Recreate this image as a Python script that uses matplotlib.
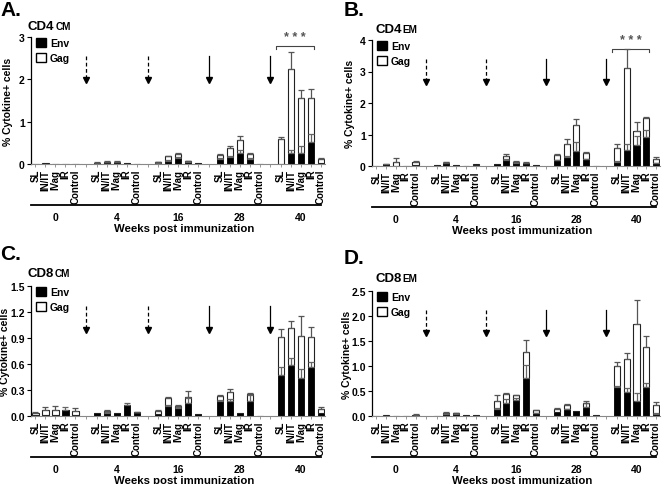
import numpy as np
import matplotlib
matplotlib.use("Agg")
from matplotlib import pyplot as plt
from matplotlib.patches import Patch
import matplotlib.transforms as mtransforms

plt.rcParams['font.family'] = ['Liberation Sans', 'DejaVu Sans']
plt.rcParams['font.weight'] = 'bold'

weeks = ["0", "4", "16", "28", "40"]
routes = ["SL", "IN/IT", "IVag", "IR", "Control"]

# values per panel, order: week 0 (SL, IN/IT, IVag, IR, Control), week 4, 16, 28, 40
# env = black part, gag = white part stacked on top, *_err = upper error length
cd4cm_env = [0.01, 0.01, 0.01, 0.005, 0.005,
             0.02, 0.02, 0.04, 0.02, 0.01,
             0.03, 0.08, 0.14, 0.05, 0.02,
             0.12, 0.16, 0.26, 0.12, 0.01,
             0.0, 0.27, 0.26, 0.51, 0.03]
cd4cm_env_err = [0, 0, 0, 0, 0,
                 0, 0, 0.01, 0, 0,
                 0.01, 0.01, 0.02, 0.01, 0,
                 0.02, 0.03, 0.08, 0.02, 0,
                 0, 0.05, 0.17, 0.21, 0]
cd4cm_gag = [0, 0.005, 0, 0, 0,
             0.01, 0.03, 0.01, 0.01, 0,
             0.01, 0.10, 0.09, 0.02, 0.01,
             0.10, 0.21, 0.30, 0.12, 0,
             0.58, 1.98, 1.29, 1.05, 0.09]
cd4cm_gag_err = [0, 0, 0, 0, 0,
                 0.01, 0.03, 0.01, 0, 0,
                 0.01, 0.02, 0.04, 0.01, 0,
                 0.02, 0.06, 0.09, 0.02, 0,
                 0.05, 0.40, 0.20, 0.21, 0.01]

cd4em_env = [0.01, 0.05, 0.01, 0.0, 0.02,
             0.02, 0.10, 0.03, 0.01, 0.04,
             0.05, 0.19, 0.11, 0.10, 0.02,
             0.18, 0.29, 0.47, 0.21, 0.01,
             0.14, 0.52, 0.67, 0.92, 0.08]
cd4em_env_err = [0, 0.01, 0, 0, 0,
                 0, 0.02, 0, 0, 0,
                 0, 0.02, 0.02, 0.01, 0,
                 0.01, 0.04, 0.29, 0.02, 0,
                 0.01, 0.17, 0.27, 0.21, 0.01]
cd4em_gag = [0, 0.01, 0.11, 0, 0.10,
             0, 0.01, 0.01, 0, 0.01,
             0.01, 0.14, 0.03, 0.01, 0,
             0.18, 0.40, 0.84, 0.19, 0,
             0.43, 2.58, 0.44, 0.60, 0.15]
cd4em_gag_err = [0, 0, 0.12, 0, 0.05,
                 0, 0.01, 0, 0, 0,
                 0, 0.05, 0.03, 0.01, 0,
                 0.02, 0.16, 0.17, 0.03, 0,
                 0.12, 0.62, 0.28, 0.02, 0.04]

cd8cm_env = [0.01, 0.01, 0.01, 0.065, 0.01,
             0.03, 0.04, 0.03, 0.125, 0.035,
             0.02, 0.11, 0.09, 0.145, 0.02,
             0.17, 0.17, 0.03, 0.175, 0.0,
             0.47, 0.59, 0.44, 0.57, 0.03]
cd8cm_env_err = [0, 0, 0, 0.035, 0,
                 0, 0.01, 0, 0.03, 0,
                 0, 0.02, 0.01, 0.06, 0,
                 0.01, 0.03, 0, 0.07, 0,
                 0.10, 0.08, 0.10, 0.05, 0]
cd8cm_gag = [0.025, 0.055, 0.065, 0, 0.05,
             0.005, 0.02, 0, 0, 0.01,
             0.04, 0.10, 0.025, 0.075, 0,
             0.06, 0.11, 0, 0.075, 0,
             0.44, 0.43, 0.48, 0.34, 0.05]
cd8cm_gag_err = [0.015, 0.035, 0.045, 0, 0.03,
                 0, 0.01, 0, 0, 0.005,
                 0.005, 0.015, 0.015, 0.07, 0,
                 0.01, 0.035, 0, 0.01, 0,
                 0.09, 0.08, 0.23, 0.12, 0.02]

cd8em_env = [0.01, 0.01, 0.01, 0.005, 0.01,
             0.01, 0.04, 0.05, 0.03, 0.02,
             0.14, 0.27, 0.32, 0.77, 0.06,
             0.08, 0.14, 0.10, 0.18, 0.02,
             0.58, 0.49, 0.31, 0.58, 0.05]
cd8em_env_err = [0, 0, 0, 0, 0,
                 0, 0.01, 0.01, 0, 0,
                 0.02, 0.08, 0.04, 0.26, 0.01,
                 0, 0.01, 0, 0.08, 0,
                 0.03, 0.07, 0.15, 0.08, 0.01]
cd8em_gag = [0, 0.005, 0, 0, 0.02,
             0, 0.03, 0.01, 0, 0,
             0.17, 0.18, 0.10, 0.51, 0.06,
             0.07, 0.08, 0, 0.09, 0,
             0.43, 0.66, 1.53, 0.81, 0.17]
cd8em_gag_err = [0, 0, 0, 0, 0.01,
                 0, 0.01, 0.01, 0, 0,
                 0.11, 0.02, 0.01, 0.25, 0.01,
                 0.02, 0.02, 0, 0.04, 0,
                 0.08, 0.12, 0.49, 0.22, 0.07]

group_step = 6.15
bar_w = 0.62
x = np.array([g * group_step + i for g in range(len(weeks)) for i in range(len(routes))])
gaps = np.array([g * group_step + 4 + (group_step - 4) / 2 for g in range(len(weeks) - 1)])
arrow_styles = ['--', '--', '-', '-']

W, H = 664, 485
fig = plt.figure(figsize=(6.64, 4.85), dpi=100)


def px_axes(left, top, right, bottom):
    # pixel box -> figure fraction
    return fig.add_axes([left / W, 1 - bottom / H, (right - left) / W, (bottom - top) / H])


def draw_panel(ax, env, env_err, gag, gag_err, ymax, yticks, ylab_x, stars):
    env = np.array(env)
    gag = np.array(gag)
    env_err = np.array(env_err)
    gag_err = np.array(gag_err)
    total = env + gag

    ax.bar(x, env, bar_w, color='black', edgecolor='black', linewidth=0.6, zorder=2)
    ax.bar(x, gag, bar_w, bottom=env, color='white', edgecolor='#222222', linewidth=0.8, zorder=2)

    m = env_err > 0
    ax.errorbar(x[m], env[m], yerr=[np.zeros(m.sum()), env_err[m]], fmt='none',
                ecolor='#666666', elinewidth=0.9, capsize=2, capthick=0.9, zorder=3)
    m = gag_err > 0
    ax.errorbar(x[m], total[m], yerr=[np.zeros(m.sum()), gag_err[m]], fmt='none',
                ecolor='#555555', elinewidth=0.9, capsize=2, capthick=0.9, zorder=3)

    ax.set_ylim(0, ymax)
    ax.set_xlim(-0.45, x[-1] + 0.4)
    ax.set_yticks(yticks)
    ax.tick_params(axis='y', labelsize=7.5, length=3, width=0.8, pad=1.5)
    ax.set_xticks(x)
    ax.set_xticklabels(routes * len(weeks), rotation=90, fontsize=7, fontweight='bold')
    ax.set_xticks(gaps, minor=True)
    ax.tick_params(axis='x', which='both', length=2, width=0.6, color='#888888', pad=1.5)

    ax.spines['top'].set_visible(False)
    ax.spines['right'].set_visible(False)
    ax.spines['left'].set_linewidth(0.9)
    ax.spines['bottom'].set_color('#888888')
    ax.spines['bottom'].set_linewidth(0.8)

    ax.set_ylabel('% Cytokine+ cells', fontsize=7.5, fontweight='bold')
    ax.yaxis.set_label_coords(ylab_x, 0.5)

    # vaccination arrows between groups
    trans = mtransforms.blended_transform_factory(ax.transData, ax.transAxes)
    for gx, ls in zip(gaps, arrow_styles):
        ax.plot([gx, gx], [0.85, 0.67], ls=ls, color='black', lw=0.9, transform=trans,
                dashes=(3, 2) if ls == '--' else (None, None))
        ax.plot(gx, 0.665, marker='v', ms=4.5, color='black', transform=trans)

    legend_handles = [Patch(facecolor='black', edgecolor='black', label='Env'),
                      Patch(facecolor='white', edgecolor='black', label='Gag')]
    ax.legend(handles=legend_handles, loc='upper left', bbox_to_anchor=(0.015, 1.0),
              frameon=False, fontsize=7.5, handlelength=0.9, handleheight=0.9,
              handletextpad=0.4, labelspacing=0.5, borderpad=0.1, borderaxespad=0)

    if stars:
        left = x[20] - 0.5
        right = x[23] + 0.25
        ax.plot([left, left, right, right], [0.905, 0.93, 0.93, 0.905], color='#444444',
                lw=0.8, transform=trans, clip_on=False)
        ax.text((left + right) / 2, 0.95, '* * *', transform=trans, ha='center', va='bottom',
                fontsize=9, color='#555555', clip_on=False)

    # week groups under the route labels
    h = ax.bbox.height
    ax.plot([-0.5, x[-1]], [-41 / h, -41 / h], color='black', lw=1.3, transform=trans, clip_on=False)
    for g, wk in enumerate(weeks):
        ax.text(x[g * 5 + 2], -48 / h, wk, transform=trans, ha='center', va='top',
                fontsize=7.5, fontweight='bold')
    ax.text(0.52, -59 / h, 'Weeks post immunization', transform=ax.transAxes, ha='center',
            va='top', fontsize=8.2, fontweight='bold')


ax_a = px_axes(31, 38, 325, 165)
ax_b = px_axes(372, 41, 660, 167)
ax_c = px_axes(31, 287, 325, 417)
ax_d = px_axes(372, 292, 660, 417)

draw_panel(ax_a, cd4cm_env, cd4cm_env_err, cd4cm_gag, cd4cm_gag_err, 3, [0, 1, 2, 3], -0.06, True)
draw_panel(ax_b, cd4em_env, cd4em_env_err, cd4em_gag, cd4em_gag_err, 4, [0, 1, 2, 3, 4], -0.06, True)
draw_panel(ax_c, cd8cm_env, cd8cm_env_err, cd8cm_gag, cd8cm_gag_err, 1.5,
           [0.0, 0.3, 0.6, 0.9, 1.2, 1.5], -0.07, False)
draw_panel(ax_d, cd8em_env, cd8em_env_err, cd8em_gag, cd8em_gag_err, 2.5,
           [0.0, 0.5, 1.0, 1.5, 2.0, 2.5], -0.07, False)
ax_c.yaxis.set_major_formatter(matplotlib.ticker.FormatStrFormatter('%.1f'))
ax_d.yaxis.set_major_formatter(matplotlib.ticker.FormatStrFormatter('%.1f'))

# panel letters and titles
letters = [("A.", 0, 16), ("B.", 344, 16), ("C.", 0, 260), ("D.", 344, 264)]
for txt, px, py in letters:
    fig.text(px / W, 1 - py / H, txt, fontsize=15, fontweight='bold', va='baseline')

titles = [("CD4", "CM", 28, 30), ("CD4", "EM", 375, 33), ("CD8", "CM", 28, 277), ("CD8", "EM", 375, 282)]
for main, sub, px, py in titles:
    t = fig.text(px / W, 1 - py / H, main, fontsize=9.5, fontweight='bold', va='baseline')
    fig.canvas.draw()
    bb = t.get_window_extent()
    fig.text(bb.x1 / W + 0.001, 1 - py / H, sub, fontsize=7.2, fontweight='bold', va='baseline')

fig.savefig("out.png", dpi=100)
